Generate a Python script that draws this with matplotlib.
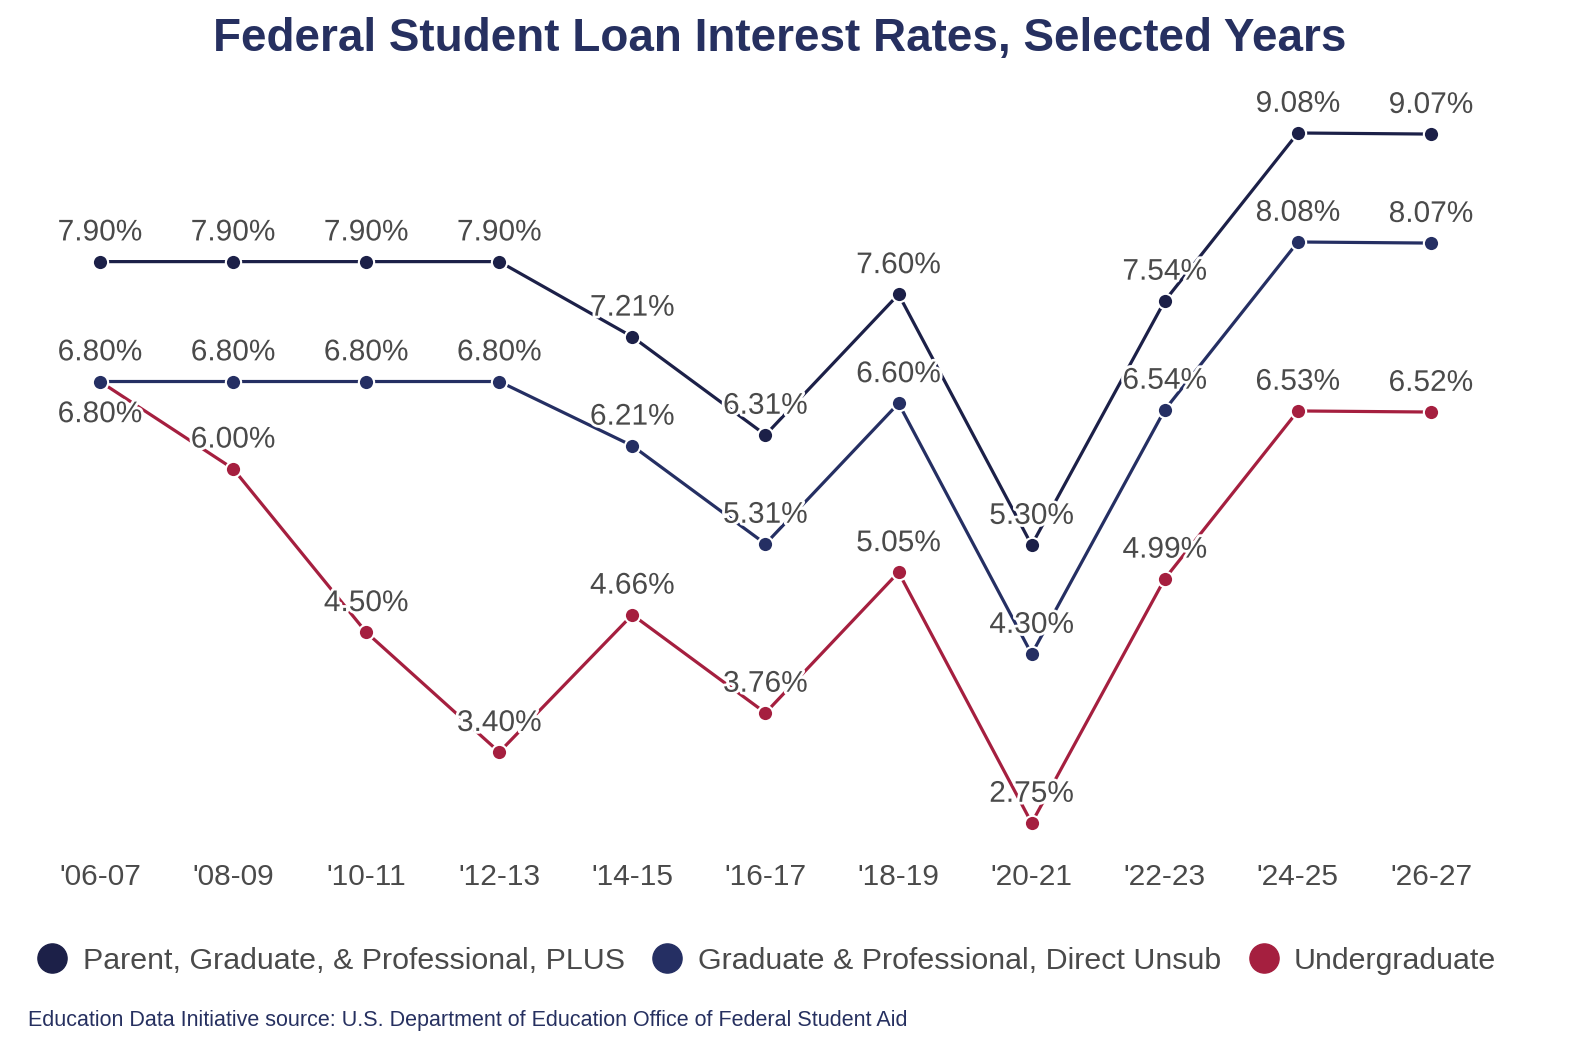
import matplotlib
matplotlib.use("Agg")
import matplotlib.pyplot as plt
import matplotlib.patheffects as pe
from matplotlib.lines import Line2D

plt.rcParams['font.family'] = ['Liberation Sans', 'DejaVu Sans']

years = ["'06-07", "'08-09", "'10-11", "'12-13", "'14-15", "'16-17",
         "'18-19", "'20-21", "'22-23", "'24-25", "'26-27"]
plus = [7.90, 7.90, 7.90, 7.90, 7.21, 6.31, 7.60, 5.30, 7.54, 9.08, 9.07]
grad = [6.80, 6.80, 6.80, 6.80, 6.21, 5.31, 6.60, 4.30, 6.54, 8.08, 8.07]
undergrad = [6.80, 6.00, 4.50, 3.40, 4.66, 3.76, 5.05, 2.75, 4.99, 6.53, 6.52]

names = ["Parent, Graduate, & Professional, PLUS",
         "Graduate & Professional, Direct Unsub",
         "Undergraduate"]
colors = ["#1c2048", "#252f63", "#a51f3f"]
label_color = "#4a4a4a"

fig = plt.figure(figsize=(15.84, 10.56), dpi=100)
ax = fig.add_axes([0.0379, 0.1897, 0.8907, 0.7174])

x = list(range(len(years)))
series = [plus, grad, undergrad]
for i, (vals, c) in enumerate(zip(series, colors)):
    ax.plot(x, vals, color=c, lw=2.3, marker='o', ms=11,
            mec='white', mew=1.5, zorder=3 + (2 - i))

# labels sit above each point, with a white halo over the lines
halo = [pe.withStroke(linewidth=4, foreground='white')]
for i, vals in enumerate(series):
    for j, v in enumerate(vals):
        dy = 21
        if i == 2 and j == 0:
            dy = -23.5
        ax.annotate(f"{v:.2f}%", (j, v), xytext=(0, dy),
                    textcoords='offset points', ha='center', va='center',
                    fontsize=21.5, color=label_color, zorder=10,
                    path_effects=halo)

ax.set_xlim(-0.3, 10.3)
ax.set_ylim(2.45, 9.4)
ax.set_xticks(x)
ax.set_xticklabels(years)
ax.set_yticks([])
ax.tick_params(axis='x', length=0, pad=5, labelsize=21.5, labelcolor=label_color)
for s in ax.spines.values():
    s.set_visible(False)

fig.text(0.492, 0.963, "Federal Student Loan Interest Rates, Selected Years",
         ha='center', va='center', fontsize=33, fontweight='bold', color="#263060")

handles = [Line2D([], [], ls='none', marker='o', ms=21, color=c) for c in colors]
fig.legend(handles, names, loc='center', bbox_to_anchor=(0.484, 0.090), ncol=3,
           frameon=False, fontsize=21.9, labelcolor=label_color,
           handletextpad=0.5, columnspacing=0.9, handlelength=1.0)

fig.text(0.0177, 0.034,
         "Education Data Initiative source: U.S. Department of Education Office of Federal Student Aid",
         ha='left', va='center', fontsize=15.5, color="#263060")

fig.savefig("out.png", dpi=100)
